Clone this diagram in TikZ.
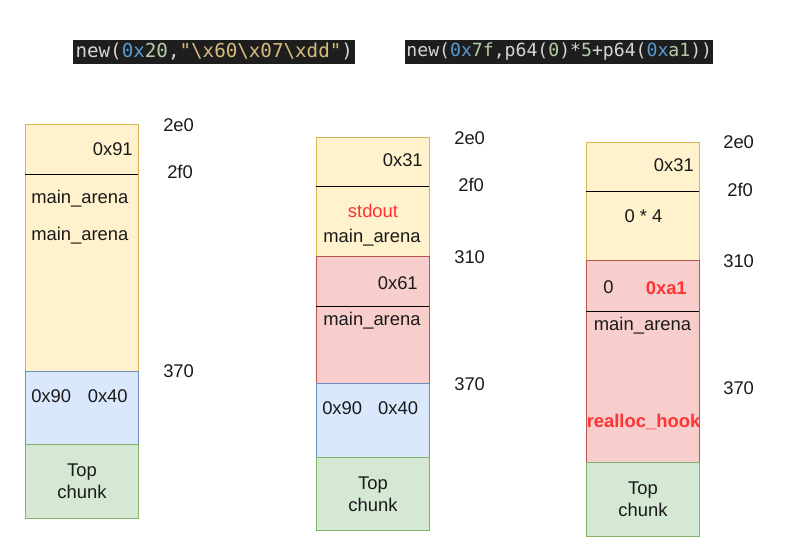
\documentclass[tikz,border=0pt]{standalone}
\usepackage{fontspec}
\setmainfont{Liberation Sans}
\newfontfamily\codefont{DejaVu Sans Mono}
\definecolor{yfill}{HTML}{FFF2CC}
\definecolor{yline}{HTML}{D6B656}
\definecolor{rfill}{HTML}{F8CECC}
\definecolor{rline}{HTML}{B85450}
\definecolor{bfill}{HTML}{DAE8FC}
\definecolor{bline}{HTML}{6C8EBF}
\definecolor{gfill}{HTML}{D5E8D4}
\definecolor{gline}{HTML}{82B366}
\definecolor{txtc}{HTML}{1A1A1A}
\definecolor{redtxt}{HTML}{FF3333}
\definecolor{codebg}{HTML}{1E1E1E}
\definecolor{cgray}{HTML}{D4D4D4}
\definecolor{cblue}{HTML}{569CD6}
\definecolor{cgreen}{HTML}{B5CEA8}
\definecolor{cstr}{HTML}{D7BA7D}
\newcommand\mainsz{\fontsize{13.8}{16.5}\selectfont}
\newcommand\cg[1]{\textcolor{cgray}{#1}}
\newcommand\cb[1]{\textcolor{cblue}{#1}}
\newcommand\cn[1]{\textcolor{cgreen}{#1}}
\newcommand\cs[1]{\textcolor{cstr}{#1}}
\begin{document}
\begin{tikzpicture}[x=0.75pt,y=-0.75pt,
  cell/.style={anchor=north west, inner sep=0pt, line width=0.75pt, minimum width=84.75pt},
  yel/.style={cell, fill=yfill, draw=yline},
  red/.style={cell, fill=rfill, draw=rline},
  blu/.style={cell, fill=bfill, draw=bline},
  grn/.style={cell, fill=gfill, draw=gline},
  divider/.style={line width=0.75pt, draw=black},
  txt/.style={inner sep=0pt, font=\mainsz, text=txtc},
  rtxt/.style={inner sep=0pt, font=\mainsz\bfseries, text=redtxt},
  topc/.style={inner sep=0pt, font=\mainsz, text=txtc, align=center},
  code/.style={inner sep=0pt, fill=codebg, anchor=north west, minimum height=17.5pt}
]
\useasboundingbox (0,0) rectangle (786,546);

% headers
\node[code, minimum width=211.5pt] (h1) at (73,40) {\fontsize{14.4}{16}\codefont\cg{new(}\cb{0x}\cn{20}\cg{,}\cs{"\textbackslash x60\textbackslash x07\textbackslash xdd"}\cg{)}};
\node[code, minimum width=231pt] (h2) at (405,40) {\fontsize{13.6}{16}\codefont\cg{new(}\cb{0x}\cn{7f}\cg{,p64(}\cn{0}\cg{)*}\cn{5}\cg{+p64(}\cb{0x}\cn{a1}\cg{))}};

% column 1
\node[yel, minimum height=185.25pt] (a1) at (25,124) {};
\node[blu, minimum height=54.75pt] (a2) at (25,371) {};
\node[grn, minimum height=55.5pt] (a3) at (25,444) {};
\coordinate (a1l) at (25,174);
\coordinate (a1r) at (138,174);
\draw[divider] (a1l) -- (a1r);
\node[txt, anchor=base east] (a1t) at (133,155) {0x91};
\node[txt, anchor=base west] (a1m1) at (31,203) {main\_arena};
\node[txt, anchor=base west] (a1m2) at (31,240) {main\_arena};
\node[txt, anchor=base west] (a2t) at (31,402) {0x90\hspace{12.5pt}0x40};
\node[topc] (a3t) at (a3.center) {Top\\chunk};
\node[txt, anchor=base west] (l1a) at (163,131) {2e0};
\node[txt, anchor=base west] (l1b) at (167,178) {2f0};
\node[txt, anchor=base west] (l1c) at (163,377) {370};

% column 2
\node[yel, minimum height=89.25pt] (b1) at (316,137) {};
\node[red, minimum height=95.25pt] (b2) at (316,256) {};
\node[blu, minimum height=55.5pt] (b3) at (316,383) {};
\node[grn, minimum height=54.75pt] (b4) at (316,457) {};
\coordinate (b1l) at (316,186);
\coordinate (b1r) at (429,186);
\draw[divider] (b1l) -- (b1r);
\coordinate (b2l) at (316,306);
\coordinate (b2r) at (429,306);
\draw[divider] (b2l) -- (b2r);
\node[txt, anchor=base east] (b1t) at (423,166) {0x31};
\node[txt, anchor=base, text=redtxt] (b1s) at (373,217) {stdout};
\node[txt, anchor=base] (b1m) at (372,242) {main\_arena};
\node[txt, anchor=base east] (b2t) at (418,289) {0x61};
\node[txt, anchor=base] (b2m) at (372,325) {main\_arena};
\node[txt, anchor=base west] (b3t) at (322,414) {0x90\hspace{12pt}0x40};
\node[topc] (b4t) at (b4.center) {Top\\chunk};
\node[txt, anchor=base west] (l2a) at (454,144) {2e0};
\node[txt, anchor=base west] (l2b) at (458,191) {2f0};
\node[txt, anchor=base west] (l2c) at (454,263) {310};
\node[txt, anchor=base west] (l2d) at (454,390) {370};

% column 3
\node[yel, minimum height=88.5pt] (c1) at (586,142) {};
\node[red, minimum height=151.5pt] (c2) at (586,260) {};
\node[grn, minimum height=55.5pt] (c3) at (586,462) {};
\coordinate (c1l) at (586,191);
\coordinate (c1r) at (699,191);
\draw[divider] (c1l) -- (c1r);
\coordinate (c2l) at (586,311);
\coordinate (c2r) at (699,311);
\draw[divider] (c2l) -- (c2r);
\node[txt, anchor=base east] (c1t) at (694,171) {0x31};
\node[txt, anchor=base] (c1z) at (643.5,222) {0 * 4};
\node[txt, anchor=base west] (c2z) at (603,293) {0};
\node[rtxt, anchor=base east] (c2a) at (687,294) {0xa1};
\node[txt, anchor=base] (c2m) at (642.5,330) {main\_arena};
\node[rtxt, anchor=base] (c2h) at (643.5,427) {realloc\_hook};
\node[topc] (c3t) at (c3.center) {Top\\chunk};
\node[txt, anchor=base west] (l3a) at (723,148) {2e0};
\node[txt, anchor=base west] (l3b) at (727,196) {2f0};
\node[txt, anchor=base west] (l3c) at (723,267) {310};
\node[txt, anchor=base west] (l3d) at (723,394) {370};
\end{tikzpicture}
\end{document}
